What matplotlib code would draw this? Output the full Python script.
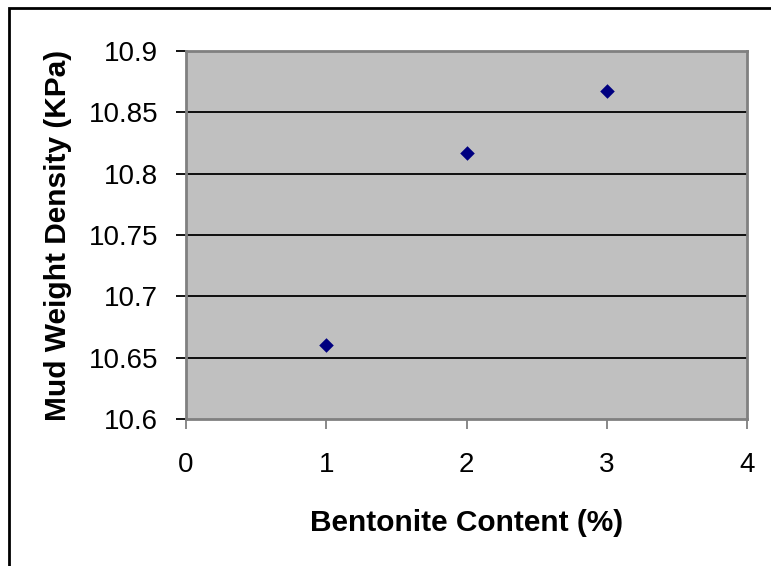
import matplotlib.pyplot as plt
from matplotlib.patches import Rectangle

plt.rcParams['font.family'] = ['Liberation Sans', 'DejaVu Sans']

bentonite = [1, 2, 3]
density = [10.66, 10.817, 10.867]
x_ticks = [0, 1, 2, 3, 4]
y_ticks = [10.6, 10.65, 10.7, 10.75, 10.8, 10.85, 10.9]
y_tick_labels = ['10.6', '10.65', '10.7', '10.75', '10.8', '10.85', '10.9']

W, H = 771, 566
fig = plt.figure(figsize=(W / 100, H / 100), dpi=100)

# outer chart border (right and bottom edges fall outside the image)
fig.patches.append(Rectangle((8.5 / W, -0.1), 2, 1 - 7.5 / H + 0.1,
                             transform=fig.transFigure, fill=False,
                             edgecolor='black', linewidth=2))

ax = fig.add_axes([186 / W, 1 - 419 / H, (747 - 186) / W, (419 - 51) / H])
ax.set_facecolor('#c0c0c0')

for y in y_ticks[1:-1]:
    ax.axhline(y, color='black', linewidth=1.3, zorder=1)

ax.scatter(bentonite, density, marker='D', s=55, color='#000080', zorder=3,
           linewidths=0)

ax.set_xlim(0, 4)
ax.set_ylim(10.6, 10.9)
ax.set_xticks(x_ticks)
ax.set_yticks(y_ticks)
ax.set_yticklabels(y_tick_labels)

for s in ax.spines.values():
    s.set_color('#808080')
    s.set_linewidth(2)

ax.tick_params(axis='x', direction='out', length=7, width=1.3, color='#808080',
               labelsize=20, pad=17)
ax.tick_params(axis='y', direction='out', length=7, width=1.3, color='black',
               labelsize=20, pad=13)

ax.set_xlabel('Bentonite Content (%)', fontsize=21.5, fontweight='bold', labelpad=22)
ax.set_ylabel('Mud Weight Density (KPa)', fontsize=21.5, fontweight='bold', labelpad=12)

fig.savefig('out.png', dpi=100)
